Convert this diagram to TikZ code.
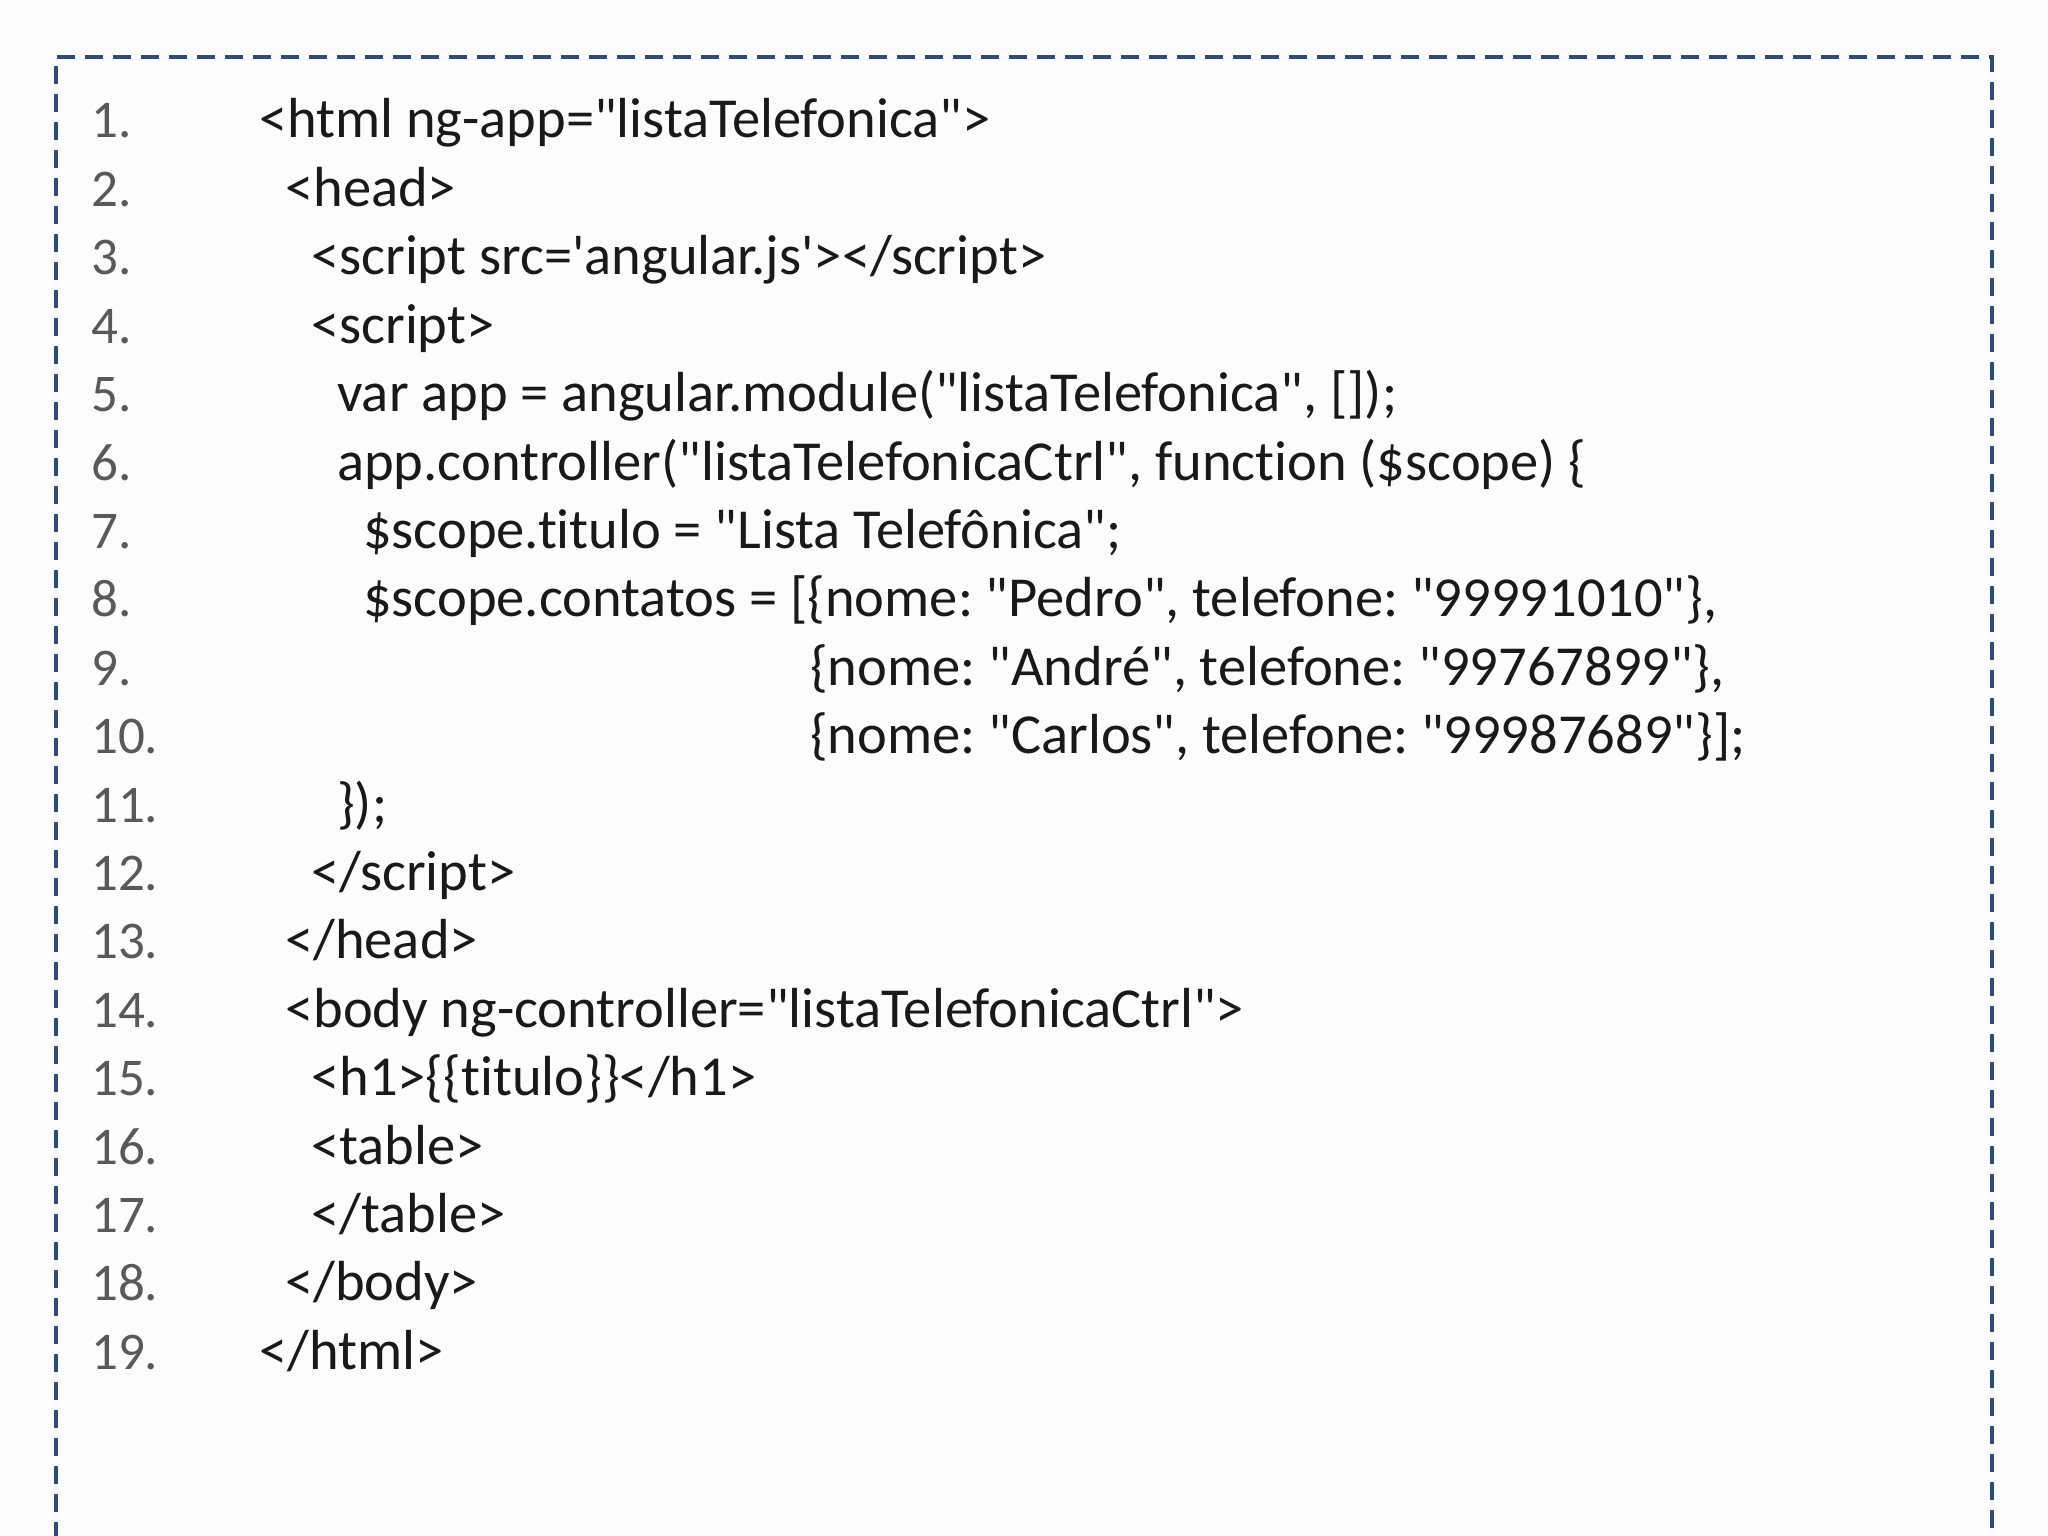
\documentclass[tikz,border=0pt]{standalone}
\usepackage{fontspec}
\setmainfont{Carlito}[Ligatures={TeXOff,NoCommon}]
\frenchspacing
\definecolor{frame}{HTML}{2F4B7A}
\definecolor{numc}{HTML}{595959}
\definecolor{bg}{HTML}{FCFCFC}
\begin{document}
\begin{tikzpicture}[x=1pt,y=-1pt,
  num/.style={anchor=base west,inner sep=0,text=numc,font=\fontsize{53}{53}\selectfont},
  code/.style={anchor=base west,inner sep=0,text=black!90,font=\fontsize{56.5}{56.5}\selectfont}]
\fill[bg] (0,0) rectangle (2048,1536);
\useasboundingbox (0,0) rectangle (2048,1536);
\draw[frame,line width=4,dash pattern=on 18 off 10] (56,1540) -- (56,57) -- (1992,57) -- (1992,1540);
\foreach \i/\x/\t in {
1/259/{<html ng-app="listaTelefonica">},
2/285/{<head>},
3/311/{<script src='angular.js'></script>},
4/311/{<script>},
5/337/{var app = angular.module("listaTelefonica", []);},
6/337/{app.controller("listaTelefonicaCtrl", function (\$scope) \{},
7/363/{\$scope.titulo = "Lista Telefônica";},
8/363/{\$scope.contatos = [\{nome: "Pedro", telefone: "99991010"\},},
9/810/{\{nome: "André", telefone: "99767899"\},},
10/810/{\{nome: "Carlos", telefone: "99987689"\}];},
11/337/{\});},
12/311/{</script>},
13/285/{</head>},
14/285/{<body ng-controller="listaTelefonicaCtrl">},
15/311/{<h1>\{\{titulo\}\}</h1>},
16/311/{<table>},
17/311/{</table>},
18/285/{</body>},
19/259/{</html>}}
{
  \node[num] (n\i) at (91,{138+(\i-1)*68.4}) {\i.};
  \node[code] (c\i) at (\x,{138+(\i-1)*68.4}) {\t};
}
\end{tikzpicture}
\end{document}
